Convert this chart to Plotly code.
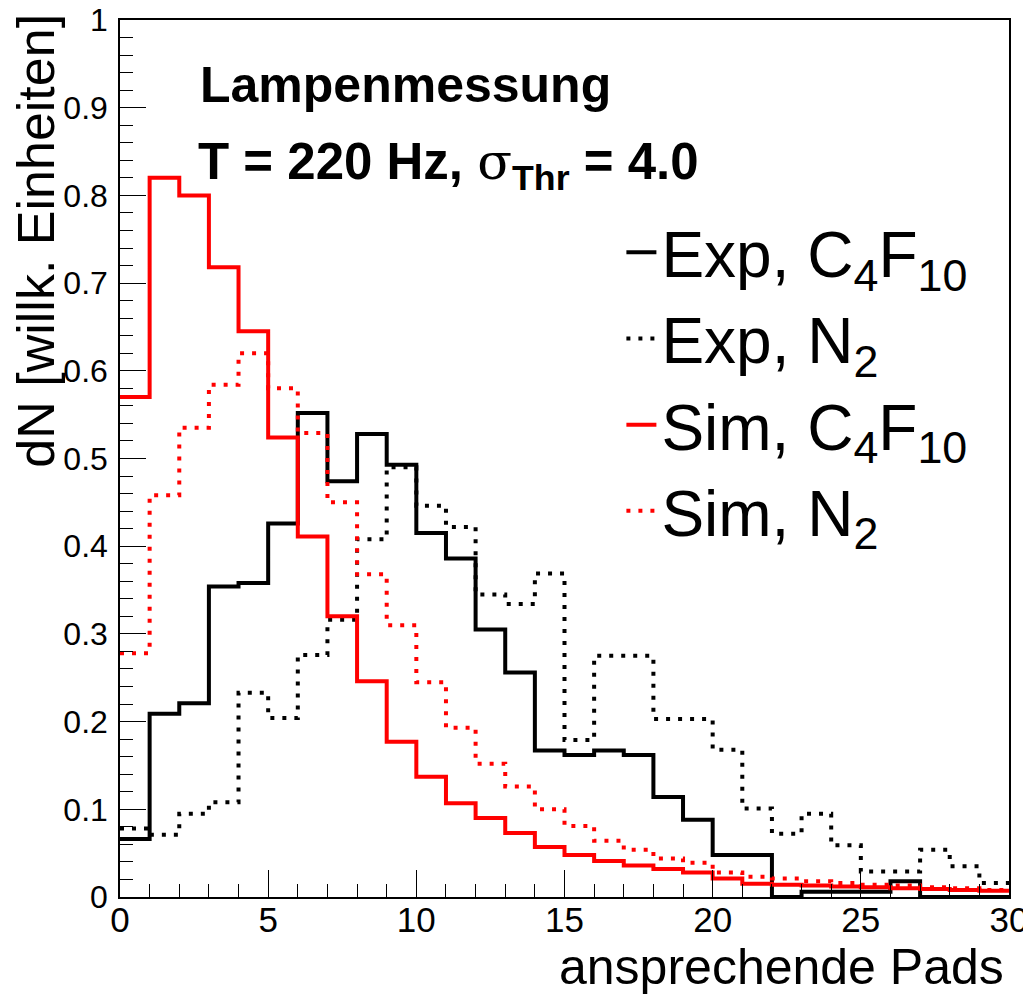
import plotly.graph_objects as go

# bin edges 0..30, one value per bin (width 1)
edges = list(range(0, 31))

exp_c4f10 = [0.066, 0.209, 0.221, 0.354, 0.358, 0.426, 0.552, 0.474, 0.528, 0.493,
             0.415, 0.386, 0.305, 0.256, 0.167, 0.162, 0.167, 0.162, 0.114, 0.088,
             0.048, 0.048, 0.0, 0.006, 0.006, 0.006, 0.018, 0.0, 0.0, 0.0]
exp_n2 = [0.078, 0.071, 0.095, 0.108, 0.233, 0.204, 0.276, 0.316, 0.408, 0.490,
          0.446, 0.422, 0.345, 0.334, 0.369, 0.179, 0.275, 0.275, 0.203, 0.203,
          0.168, 0.101, 0.072, 0.095, 0.059, 0.029, 0.029, 0.054, 0.035, 0.016]
sim_c4f10 = [0.570, 0.820, 0.800, 0.718, 0.645, 0.524, 0.411, 0.320, 0.246, 0.177,
             0.137, 0.107, 0.090, 0.073, 0.057, 0.048, 0.041, 0.036, 0.032, 0.028,
             0.021, 0.015, 0.014, 0.013, 0.012, 0.011, 0.010, 0.009, 0.008, 0.007]
sim_n2 = [0.278, 0.458, 0.535, 0.584, 0.620, 0.580, 0.529, 0.450, 0.368, 0.310,
          0.245, 0.193, 0.152, 0.126, 0.100, 0.081, 0.064, 0.054, 0.044, 0.039,
          0.028, 0.023, 0.021, 0.018, 0.016, 0.014, 0.013, 0.011, 0.010, 0.008]

series = [
    ("Exp, C<sub>4</sub>F<sub>10</sub>", exp_c4f10, "black", "solid"),
    ("Exp, N<sub>2</sub>", exp_n2, "black", "4px,8px"),
    ("Sim, C<sub>4</sub>F<sub>10</sub>", sim_c4f10, "#ff0000", "solid"),
    ("Sim, N<sub>2</sub>", sim_n2, "#ff0000", "4px,8px"),
]

FONT = "Liberation Sans, Arial, sans-serif"

fig = go.Figure()
for name, vals, col, dash in series:
    # step histogram: hv line through the left edges, closed at the last edge
    fig.add_trace(go.Scatter(
        x=edges, y=vals + [vals[-1]],
        mode="lines", line_shape="hv",
        line=dict(color=col, width=4, dash=dash),
        name=name,
    ))

fig.update_layout(
    width=1031, height=995,
    margin=dict(l=112, r=30, t=12, b=106),
    paper_bgcolor="white", plot_bgcolor="white",
    font=dict(family=FONT, color="black"),
    showlegend=True,
    legend=dict(
        x=0.564, y=0.79, xanchor="left", yanchor="top",
        font=dict(size=64, family=FONT, color="black"),
        bgcolor="rgba(0,0,0,0)", itemwidth=30,
        tracegroupgap=0,
    ),
)

fig.update_xaxes(
    range=[0, 30], dtick=5, tick0=0,
    ticks="inside", ticklen=27, tickwidth=1, tickcolor="black",
    minor=dict(dtick=1, ticks="inside", ticklen=13, tickcolor="black"),
    showgrid=False, zeroline=False, automargin=False,
    showline=True, linecolor="black", linewidth=1.5, mirror=True,
    tickfont=dict(size=35, family=FONT),
    ticklabelstandoff=-9, ticklabeloverflow="allow",
)
fig.update_yaxes(
    range=[0, 1], dtick=0.1, tick0=0,
    ticks="inside", ticklen=26, tickwidth=1, tickcolor="black",
    minor=dict(dtick=0.02, ticks="inside", ticklen=13, tickcolor="black"),
    showgrid=False, zeroline=False, automargin=False,
    showline=True, linecolor="black", linewidth=1.5, mirror=True,
    tickfont=dict(size=32, family=FONT),
    ticklabelstandoff=4, ticklabeloverflow="allow",
)

# axis titles (ROOT style: right/top aligned)
fig.add_annotation(
    text="ansprechende Pads", xref="paper", yref="paper",
    x=0.997, y=-0.080, xanchor="right", yanchor="middle",
    showarrow=False, font=dict(size=50, family=FONT),
)
fig.add_annotation(
    text="dN [willk. Einheiten]", xref="paper", yref="paper",
    x=-0.094, y=1.010, xanchor="center", yanchor="top", textangle=-90,
    showarrow=False, font=dict(size=52, family=FONT),
)

# header texts
fig.add_annotation(
    text="<b>Lampenmessung</b>", xref="paper", yref="paper",
    x=0.088, y=0.926, xanchor="left", yanchor="middle",
    showarrow=False, font=dict(size=50, family=FONT),
)
fig.add_annotation(
    text="<b>T = 220 Hz, </b><span style='font-family:DejaVu Serif'>σ</span>"
         "<sub><b>Thr</b></sub><b> = 4.0</b>",
    xref="paper", yref="paper",
    x=0.085, y=0.835, xanchor="left", yanchor="middle",
    showarrow=False, font=dict(size=51, family=FONT),
)

fig.write_html("out.html")
